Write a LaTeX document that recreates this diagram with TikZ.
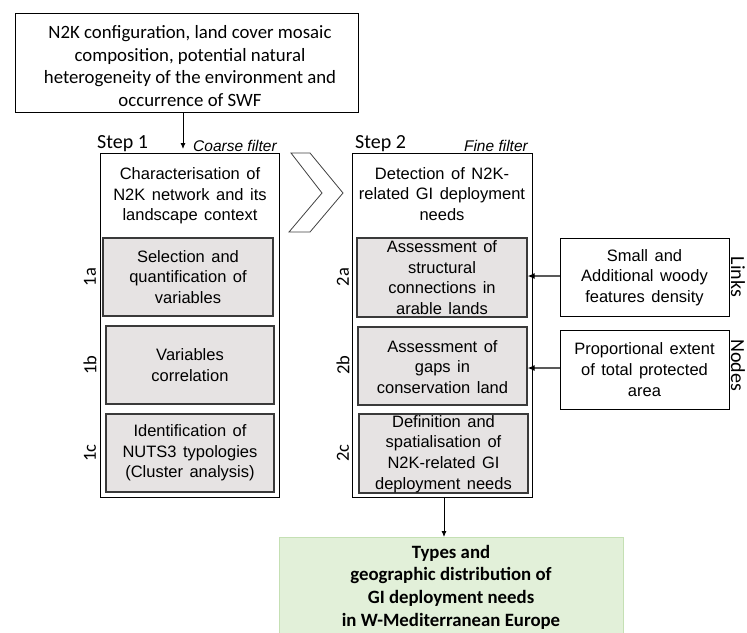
\documentclass[tikz,border=0pt]{standalone}
\usepackage{fontspec}
\setmainfont{Carlito}
\newfontfamily\arialf{Liberation Sans}
\usetikzlibrary{arrows.meta}
\definecolor{innerfill}{HTML}{E6E3E3}
\definecolor{innerline}{HTML}{3A3A3A}
\definecolor{greenfill}{HTML}{E2F0D9}
\definecolor{greenline}{HTML}{C5E0B4}
\newcommand\mywidesp{\spaceskip=6.5pt plus 1pt minus 0.5pt\relax}
\begin{document}
\begin{tikzpicture}[x=1pt,y=-1pt,
  box/.style={draw=black, line width=1pt, inner sep=0pt},
  innerbox/.style={draw=innerline, fill=innerfill, line width=1.2pt, inner sep=0pt},
  ctext/.style={align=center, inner sep=0pt, font=\fontsize{18.8}{22.5}\selectfont},
  atext/.style={align=center, inner sep=0pt, font=\arialf\fontsize{16.5}{20.7}\selectfont\mywidesp},
  steplabel/.style={anchor=base west, inner sep=0pt, font=\fontsize{20}{24}\selectfont},
  filterlabel/.style={inner sep=0pt, font=\arialf\itshape\fontsize{15.5}{18}\selectfont},
  sublabel/.style={inner sep=0pt, rotate=90, font=\fontsize{18.5}{20}\selectfont},
  sidelabel/.style={inner sep=0pt, rotate=-90, font=\fontsize{20}{22}\selectfont},
  arr/.style={-{Latex[length=6pt,width=5pt]}, line width=0.9pt},
  garr/.style={-{Latex[length=7pt,width=6pt,color=black]}, line width=1.2pt, draw=black!65}
]
\useasboundingbox (0,0) rectangle (747,632);
\clip (0,0) rectangle (747,632);

% top box
\node[box, minimum width=343pt, minimum height=99pt] (top) at (186.5,62.5) {};
\node[ctext] (toptext) at (190,66) {N2K configuration, land cover mosaic\\composition, potential natural\\heterogeneity of the environment and\\occurrence of SWF};

% step labels
\node[steplabel] (st1) at (97,148) {Step 1};
\node[steplabel] (st2) at (355,148) {Step 2};
\node[filterlabel, anchor=base west] (cf) at (193,151) {Coarse filter};
\node[filterlabel, anchor=base east] (ff) at (528,151) {Fine filter};

% step 1
\node[box, minimum width=179pt, minimum height=344pt] (s1) at (189.5,325) {};
\node[atext] (s1t) at (190,196) {Characterisation of\\N2K network and its\\landscape context};
\node[innerbox, minimum width=170pt, minimum height=78pt] (a1) at (188,277) {};
\node[atext] (a1t) at (a1) {Selection and\\quantification of\\variables};
\node[innerbox, minimum width=168pt, minimum height=78pt] (b1) at (190,365) {};
\node[atext] (b1t) at (b1) {Variables\\correlation};
\node[innerbox, minimum width=168pt, minimum height=78pt] (c1) at (190,453) {};
\node[atext] (c1t) at (c1) {Identification of\\NUTS3 typologies\\(Cluster analysis)};
\node[sublabel] (l1a) at (90,277) {1a};
\node[sublabel] (l1b) at (90,365) {1b};
\node[sublabel] (l1c) at (90,453) {1c};

% chevron
\draw[draw=black!75, line width=0.8pt] (291,153) -- (310,153) -- (343,193) -- (310,232) -- (289,232) -- (322,193) -- cycle;

% step 2
\node[box, minimum width=180pt, minimum height=344pt] (s2) at (442,325) {};
\node[atext] (s2t) at (442,194) {Detection of N2K-\\related GI deployment\\needs};
\node[innerbox, minimum width=170pt, minimum height=79pt] (a2) at (442,277.5) {};
\node[atext] (a2t) at (442,277.5) {Assessment of\\structural\\connections in\\arable lands};
\node[innerbox, minimum width=169pt, minimum height=78pt] (b2) at (442.5,366) {};
\node[atext] (b2t) at (442.5,367) {Assessment of\\gaps in\\conservation land};
\node[innerbox, minimum width=169pt, minimum height=79pt] (c2) at (443.5,453.5) {};
\node[atext] (c2t) at (443.5,454) {Definition and\\spatialisation of\\N2K-related GI\\deployment needs};
\node[sublabel] (l2a) at (343,277) {2a};
\node[sublabel] (l2b) at (343,365) {2b};
\node[sublabel] (l2c) at (343,453) {2c};

% right boxes
\node[box, minimum width=169pt, minimum height=78pt] (links) at (644.5,277) {};
\node[atext] (linkst) at (644.5,277.5) {Small and\\Additional woody\\features density};
\node[box, minimum width=169pt, minimum height=79pt] (nodesb) at (644.5,369.5) {};
\node[atext] (nodest) at (644.5,369.5) {Proportional extent\\of total protected\\area};
\node[sidelabel] (llinks) at (738,277) {Links};
\node[sidelabel] (lnodes) at (738,365) {Nodes};

% green box
\node[draw=greenline, fill=greenfill, line width=1.2pt, minimum width=344pt, minimum height=110pt, anchor=north west] (res) at (279,537) {};
\node[ctext, font=\bfseries\fontsize{18.8}{22.6}\selectfont] (rest) at (451,587) {Types and\\geographic distribution of\\GI deployment needs\\in W-Mediterranean Europe};

% connectors
\coordinate (topend) at (183,149);
\draw[arr] (top.south -| topend) -- (topend);
\coordinate (resx) at (444,0);
\draw[arr] (s2.south -| resx) -- (res.north -| resx);
\draw[garr] (links.west |- 0,276) -- (a2.east |- 0,276);
\draw[garr] (nodesb.west |- 0,368) -- (b2.east |- 0,368);
\end{tikzpicture}
\end{document}
